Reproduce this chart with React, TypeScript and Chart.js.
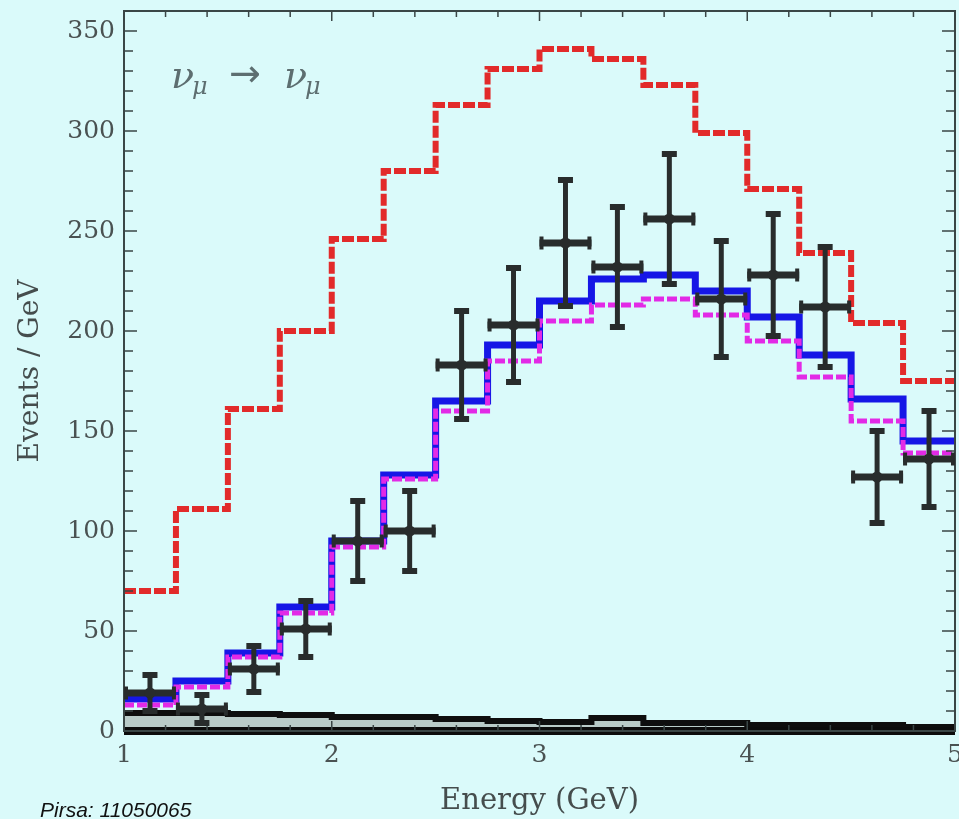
import React, { useEffect, useRef } from 'react';
import { Chart, registerables } from 'chart.js';

Chart.register(...registerables);

// ---- Data ----
const binEdges = [1, 1.25, 1.5, 1.75, 2, 2.25, 2.5, 2.75, 3, 3.25, 3.5, 3.75, 4, 4.25, 4.5, 4.75, 5];
const binCenters = [1.125, 1.375, 1.625, 1.875, 2.125, 2.375, 2.625, 2.875, 3.125, 3.375, 3.625, 3.875, 4.125, 4.375, 4.625, 4.875];
const binHalfWidth = 0.125;

const noOscillation = [70, 111, 161, 200, 246, 280, 313, 331, 341, 336, 323, 299, 271, 239, 204, 175];
const bestFit = [16, 25, 39, 62, 95, 128, 165, 193, 215, 226, 228, 220, 207, 188, 166, 145];
const altFit = [13, 22, 37, 59, 92, 126, 160, 185, 205, 213, 216, 208, 195, 177, 155, 139];
const backgroundEvents = [9, 9, 8.5, 8, 7, 7, 6, 5, 4.5, 6.5, 4, 4, 3, 3, 3, 2];

const dataValues = [19, 11, 31, 51, 95, 100, 183, 203, 244, 232, 256, 216, 228, 212, 127, 136];
const dataErrors = [9, 7, 11.5, 14, 20, 20, 27, 28.5, 31.5, 30, 32.5, 29, 30.5, 30, 23, 24];

const xTickLabels = [1, 2, 3, 4, 5];
const yTickLabels = [0, 50, 100, 150, 200, 250, 300, 350];

const BG = '#dafafa';
const FRAME = '#3a4646';
const LABEL = '#4a5252';

function stepPoints(values: number[]) {
  return binEdges.map((x, i) => ({ x, y: values[Math.min(i, values.length - 1)] }));
}

const decorPlugin = {
  id: 'decor',
  afterDatasetsDraw(chart: any) {
    const { ctx, chartArea: a, scales } = chart;
    const xs = scales.x;
    const ys = scales.y;
    ctx.save();
    // thick zero line
    const y0 = ys.getPixelForValue(0);
    ctx.strokeStyle = '#0c0c0c';
    ctx.lineWidth = 8;
    ctx.beginPath();
    ctx.moveTo(a.left, y0);
    ctx.lineTo(a.right, y0);
    ctx.stroke();
    // frame
    ctx.strokeStyle = FRAME;
    ctx.lineWidth = 2;
    ctx.strokeRect(a.left, a.top, a.right - a.left, a.bottom - a.top);
    // inward ticks
    ctx.lineWidth = 1.5;
    ctx.beginPath();
    for (let v = 0; v <= 360; v += 10) {
      const py = ys.getPixelForValue(v);
      const major = v % 50 === 0;
      const len = major ? 13 : 9;
      ctx.moveTo(a.left, py);
      ctx.lineTo(a.left + len, py);
      ctx.moveTo(a.right, py);
      ctx.lineTo(a.right - len, py);
    }
    for (let k = 0; k <= 20; k++) {
      const v = 1 + k * 0.2;
      const px = xs.getPixelForValue(v);
      const major = k % 5 === 0;
      const len = major ? 10 : 6;
      ctx.moveTo(px, a.top);
      ctx.lineTo(px, a.top + len);
      ctx.moveTo(px, a.bottom);
      ctx.lineTo(px, a.bottom - len);
    }
    ctx.stroke();

    // data with error bars
    ctx.strokeStyle = '#282c2c';
    ctx.fillStyle = '#282c2c';
    for (let i = 0; i < dataValues.length; i++) {
      const c = binCenters[i];
      const v = dataValues[i];
      const e = dataErrors[i];
      const px = xs.getPixelForValue(c);
      const py = ys.getPixelForValue(v);
      const pTop = ys.getPixelForValue(v + e);
      const pBot = ys.getPixelForValue(Math.max(0, v - e));
      const pL = xs.getPixelForValue(c - binHalfWidth);
      const pR = xs.getPixelForValue(c + binHalfWidth);
      ctx.lineWidth = 5;
      ctx.beginPath();
      ctx.moveTo(px, pTop);
      ctx.lineTo(px, pBot);
      ctx.stroke();
      ctx.fillRect(px - 7.5, pTop - 3, 15, 6);
      if (v - e > 0) ctx.fillRect(px - 7.5, pBot - 3, 15, 6);
      ctx.lineWidth = 7;
      ctx.beginPath();
      ctx.moveTo(pL, py);
      ctx.lineTo(pR, py);
      ctx.stroke();
      ctx.fillRect(pL, py - 6.5, 4, 13);
      ctx.fillRect(pR - 4, py - 6.5, 4, 13);
      ctx.beginPath();
      ctx.arc(px, py, 5.5, 0, Math.PI * 2);
      ctx.fill();
    }
    ctx.restore();
  },
  afterDraw(chart: any) {
    const { ctx, chartArea: a } = chart;
    ctx.save();
    ctx.fillStyle = '#5d6e70';
    ctx.textBaseline = 'alphabetic';
    ctx.textAlign = 'left';
    const bx = a.left + 47;
    const by = a.top + 77;
    ctx.font = 'italic 38px "DejaVu Serif"';
    ctx.fillText('ν', bx, by);
    ctx.font = 'italic 24px "DejaVu Serif"';
    ctx.fillText('μ', bx + 21, by + 6);
    ctx.font = '38px "DejaVu Sans"';
    ctx.fillText('→', bx + 58, by - 2);
    ctx.font = 'italic 38px "DejaVu Serif"';
    ctx.fillText('ν', bx + 113, by);
    ctx.font = 'italic 24px "DejaVu Serif"';
    ctx.fillText('μ', bx + 134, by + 6);
    // source tag
    ctx.fillStyle = '#111111';
    ctx.font = 'italic 21px "Liberation Sans"';
    ctx.fillText('Pirsa: 11050065', 40, 817);
    ctx.restore();
  },
};

export default function App() {
  const ref = useRef<HTMLCanvasElement | null>(null);
  useEffect(() => {
    if (!ref.current) return;
    const chart = new Chart(ref.current, {
      type: 'line',
      data: {
        datasets: [
          {
            label: 'Background',
            data: stepPoints(backgroundEvents),
            stepped: 'before',
            borderColor: '#0e0e0e',
            borderWidth: 6,
            backgroundColor: '#b9cbc8',
            fill: 'origin',
            pointRadius: 0,
            order: 4,
          },
          {
            label: 'No oscillation',
            data: stepPoints(noOscillation),
            stepped: 'before',
            borderColor: '#e22a2a',
            borderWidth: 6,
            borderDash: [12, 3],
            fill: false,
            pointRadius: 0,
            order: 3,
          },
          {
            label: 'Best fit',
            data: stepPoints(bestFit),
            stepped: 'before',
            borderColor: '#1616e6',
            borderWidth: 7,
            fill: false,
            pointRadius: 0,
            order: 2,
          },
          {
            label: 'Alternative fit',
            data: stepPoints(altFit),
            stepped: 'before',
            borderColor: '#e22ae6',
            borderWidth: 5,
            borderDash: [10, 3],
            fill: false,
            pointRadius: 0,
            order: 1,
          },
        ],
      },
      options: {
        animation: false,
        responsive: false,
        layout: { padding: { top: 11, right: 4, left: 0, bottom: 0 } },
        plugins: { legend: { display: false }, tooltip: { enabled: false } },
        scales: {
          x: {
            type: 'linear',
            min: 1,
            max: 5,
            afterBuildTicks: (s: any) => {
              s.ticks = xTickLabels.map((v) => ({ value: v }));
            },
            grid: { display: false, drawTicks: false },
            border: { display: false },
            ticks: {
              font: { family: 'DejaVu Serif', size: 25 },
              color: LABEL,
              padding: 9,
              maxRotation: 0,
              autoSkip: false,
            },
            title: {
              display: true,
              text: 'Energy (GeV)',
              font: { family: 'DejaVu Serif', size: 29 },
              color: '#454d4d',
              padding: { top: 0, bottom: 0 },
            },
            afterFit: (s: any) => {
              s.height = 88;
              s.paddingLeft = 0;
              s.paddingRight = 0;
            },
          },
          y: {
            type: 'linear',
            min: 0,
            max: 360,
            afterBuildTicks: (s: any) => {
              s.ticks = yTickLabels.map((v) => ({ value: v }));
            },
            grid: { display: false, drawTicks: false },
            border: { display: false },
            ticks: {
              font: { family: 'DejaVu Serif', size: 25 },
              color: LABEL,
              padding: 9,
              autoSkip: false,
            },
            title: {
              display: true,
              text: 'Events / GeV',
              font: { family: 'DejaVu Serif', size: 28 },
              color: '#454d4d',
              padding: { top: 14, bottom: 14 },
            },
            afterFit: (s: any) => {
              s.width = 124;
              s.paddingTop = 0;
              s.paddingBottom = 0;
            },
          },
        },
      },
      plugins: [decorPlugin],
    });
    return () => chart.destroy();
  }, []);

  return (
    <div style={{ position: 'fixed', left: 0, top: 0, width: 959, height: 819, background: BG, overflow: 'hidden' }}>
      <canvas ref={ref} width={959} height={819} style={{ display: 'block' }} />
    </div>
  );
}
